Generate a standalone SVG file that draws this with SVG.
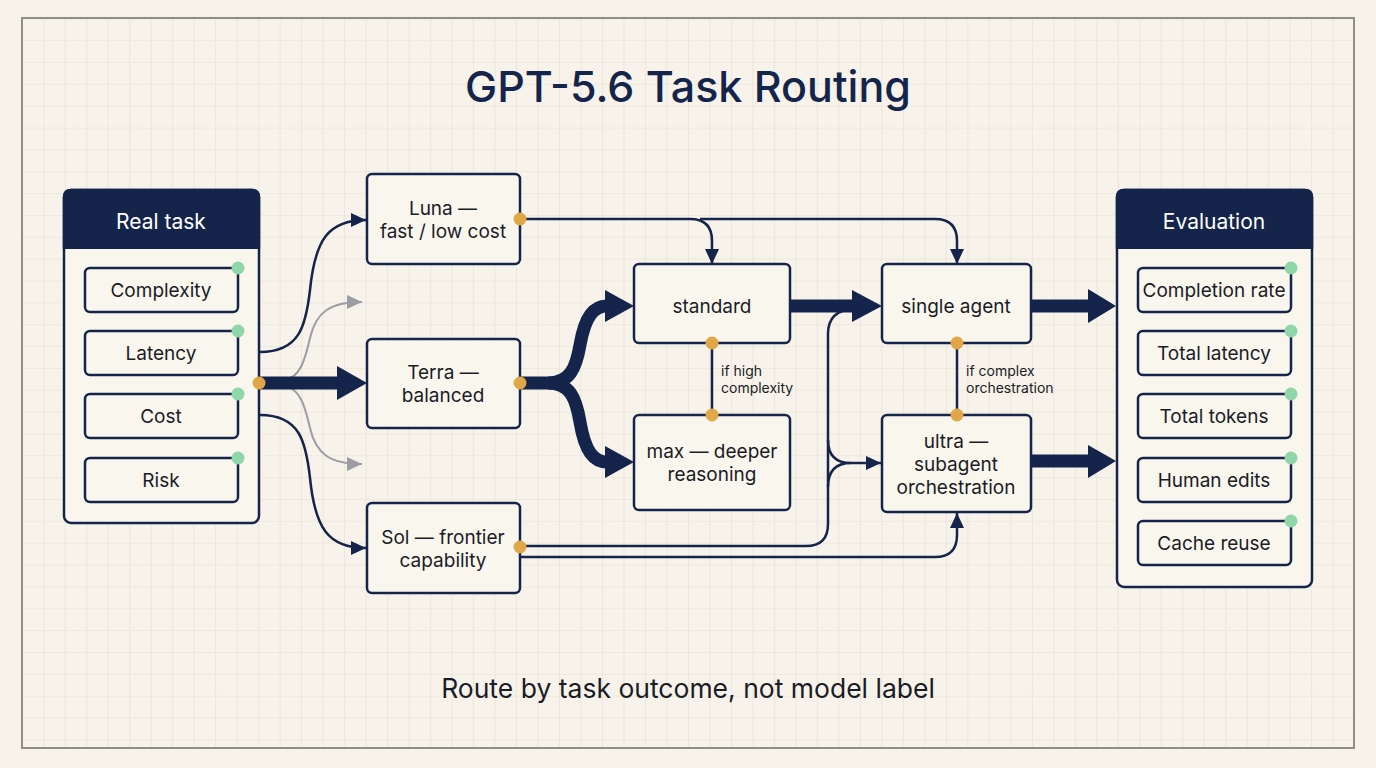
<svg xmlns="http://www.w3.org/2000/svg" width="1376" height="768" viewBox="0 0 1376 768">
  <defs>
    <pattern id="grid" patternUnits="userSpaceOnUse" x="0.3" y="18.3" width="21.49" height="21.85">
      <path d="M0,0 V21.85 M0,0 H21.49" fill="none" stroke="#e4dfd3" stroke-width="1.2"/>
    </pattern>
    <marker id="ah" markerUnits="userSpaceOnUse" markerWidth="16" markerHeight="16" viewBox="0 0 16 16" refX="15" refY="8" orient="auto">
      <path d="M0,1 L15,8 L0,15 z" fill="#14244a"/>
    </marker>
    <marker id="ahg" markerUnits="userSpaceOnUse" markerWidth="16" markerHeight="16" viewBox="0 0 16 16" refX="15" refY="8" orient="auto">
      <path d="M0,1 L15,8 L0,15 z" fill="#9c9ca4"/>
    </marker>
    <style>
      .box { fill: #f9f6ee; stroke: #14244a; stroke-width: 2.5; }
      .panel { fill: #f9f6ee; stroke: #14244a; stroke-width: 2.5; }
      .head { fill: #14244a; }
      .t { font-family: Inter, "Liberation Sans", sans-serif; fill: #1a1c26; text-anchor: middle; }
      .n { font-size: 19px; }
      .ht { font-size: 21px; fill: #ffffff; }
      .lbl { font-family: Inter, "Liberation Sans", sans-serif; font-size: 14px; fill: #1a1c26; }
      .ln { fill: none; stroke: #14244a; stroke-width: 2.5; }
      .gl { fill: none; stroke: #9c9ca4; stroke-width: 2; }
      .thick { fill: none; stroke: #14244a; stroke-width: 13; }
      .hd { fill: #14244a; }
      .od { fill: #e1a647; }
      .gd { fill: #8fd6a8; }
    </style>
  </defs>

  <rect x="0" y="0" width="1376" height="768" fill="#f7f3ea"/>
  <rect x="22" y="18" width="1332" height="730" fill="url(#grid)"/>
  <rect x="22" y="18" width="1332" height="730" fill="none" stroke="#8e8e86" stroke-width="2"/>

  <text class="t" x="688" y="102" font-size="43" font-weight="500" style="fill:#14244a">GPT-5.6 Task Routing</text>

  <g id="connectors">
    <!-- left fan-out -->
    <path class="ln" d="M260,352 C300,352 306,325 310,290 C315,240 328,220 366,220" marker-end="url(#ah)"/>
    <path class="gl" d="M284,380 C300,378 305,360 310,338 C316,312 330,302 362,302" marker-end="url(#ahg)"/>
    <path class="gl" d="M284,386 C300,388 305,406 310,428 C316,454 330,464 362,464" marker-end="url(#ahg)"/>
    <path class="ln" d="M260,415 C300,415 306,442 310,478 C315,528 328,548 366,548" marker-end="url(#ah)"/>
    <line class="thick" x1="259" y1="383" x2="339" y2="383"/>
    <polygon class="hd" points="337,366 367,383 337,400"/>

    <!-- Luna outputs -->
    <path class="ln" d="M520,219 H690 Q712,219 712,241 V264" marker-end="url(#ah)"/>
    <path class="ln" d="M700,219 H935 Q957,219 957,241 V264" marker-end="url(#ah)"/>

    <!-- Terra split -->
    <path class="thick" d="M520,383 H548 C570,383 576,368 580,345 C585,316 594,306 607,306"/>
    <polygon class="hd" points="605,290 634,306 605,322"/>
    <path class="thick" d="M548,383 C570,383 576,398 580,422 C585,452 594,462 607,462"/>
    <polygon class="hd" points="605,446 634,462 605,478"/>

    <!-- standard -> single agent -->
    <line class="thick" x1="790" y1="306" x2="854" y2="306"/>
    <polygon class="hd" points="852,290 882,306 852,322"/>

    <!-- Sol outputs -->
    <path class="ln" d="M520,546 H806 Q828,546 828,524 V334 Q828,310 854,309"/>
    <path class="ln" d="M828,440 Q828,463 851,463 H881" marker-end="url(#ah)"/>
    <path class="ln" d="M828,487 Q828,463 851,463"/>
    <path class="ln" d="M520,557 H935 Q957,557 957,535 V513" marker-end="url(#ah)"/>

    <!-- escalation links -->
    <line class="ln" x1="712" y1="343" x2="712" y2="415"/>
    <line class="ln" x1="957" y1="343" x2="957" y2="415"/>
    <text class="lbl" x="721" y="376">if high</text>
    <text class="lbl" x="721" y="393">complexity</text>
    <text class="lbl" x="966" y="376">if complex</text>
    <text class="lbl" x="966" y="393">orchestration</text>

    <!-- to evaluation -->
    <line class="thick" x1="1031" y1="306" x2="1090" y2="306"/>
    <polygon class="hd" points="1088,289 1116,306 1088,323"/>
    <line class="thick" x1="1031" y1="461" x2="1090" y2="461"/>
    <polygon class="hd" points="1088,445 1116,461 1088,478"/>
  </g>

  <g id="real-task">
    <rect class="panel" x="64" y="190" width="195" height="333" rx="7"/>
    <path class="head" d="M62.8,249 V197 Q62.8,188.8 71,188.8 H252 Q260.2,188.8 260.2,197 V249 Z"/>
    <text class="t ht" x="161" y="229">Real task</text>
    <g id="item-complexity">
      <rect class="box" x="85" y="268" width="153" height="44" rx="5"/>
      <text class="t n" x="161" y="297">Complexity</text>
      <circle class="gd" cx="238" cy="268" r="6.5"/>
    </g>
    <g id="item-latency">
      <rect class="box" x="85" y="331" width="153" height="44" rx="5"/>
      <text class="t n" x="161" y="360">Latency</text>
      <circle class="gd" cx="238" cy="331" r="6.5"/>
    </g>
    <g id="item-cost">
      <rect class="box" x="85" y="394" width="153" height="44" rx="5"/>
      <text class="t n" x="161" y="423">Cost</text>
      <circle class="gd" cx="238" cy="394" r="6.5"/>
    </g>
    <g id="item-risk">
      <rect class="box" x="85" y="458" width="153" height="44" rx="5"/>
      <text class="t n" x="161" y="487">Risk</text>
      <circle class="gd" cx="238" cy="458" r="6.5"/>
    </g>
    <circle class="od" cx="259" cy="383" r="6.5"/>
  </g>

  <g id="luna">
    <rect class="box" x="367" y="174" width="153" height="90" rx="5"/>
    <text class="t n" x="443" y="215">Luna —</text>
    <text class="t n" x="443" y="238">fast / low cost</text>
    <circle class="od" cx="520" cy="219" r="6.5"/>
  </g>

  <g id="terra">
    <rect class="box" x="367" y="339" width="153" height="89" rx="5"/>
    <text class="t n" x="443" y="379">Terra —</text>
    <text class="t n" x="443" y="402">balanced</text>
    <circle class="od" cx="520" cy="383" r="6.5"/>
  </g>

  <g id="sol">
    <rect class="box" x="367" y="503" width="153" height="90" rx="5"/>
    <text class="t n" x="443" y="544">Sol — frontier</text>
    <text class="t n" x="443" y="567">capability</text>
    <circle class="od" cx="520" cy="547" r="6.5"/>
  </g>

  <g id="standard">
    <rect class="box" x="634" y="264" width="156" height="79" rx="5"/>
    <text class="t n" x="712" y="313">standard</text>
    <circle class="od" cx="712" cy="343" r="6.5"/>
  </g>

  <g id="max">
    <rect class="box" x="634" y="415" width="156" height="95" rx="5"/>
    <text class="t n" x="712" y="458">max — deeper</text>
    <text class="t n" x="712" y="481">reasoning</text>
    <circle class="od" cx="712" cy="415" r="6.5"/>
  </g>

  <g id="single-agent">
    <rect class="box" x="882" y="264" width="149" height="79" rx="5"/>
    <text class="t n" x="956" y="313">single agent</text>
    <circle class="od" cx="957" cy="343" r="6.5"/>
  </g>

  <g id="ultra">
    <rect class="box" x="882" y="415" width="149" height="97" rx="5"/>
    <text class="t n" x="956" y="448">ultra —</text>
    <text class="t n" x="956" y="471">subagent</text>
    <text class="t n" x="956" y="494">orchestration</text>
    <circle class="od" cx="957" cy="415" r="6.5"/>
  </g>

  <g id="evaluation">
    <rect class="panel" x="1117" y="190" width="195" height="397" rx="7"/>
    <path class="head" d="M1115.8,249 V197 Q1115.8,188.8 1124,188.8 H1305 Q1313.2,188.8 1313.2,197 V249 Z"/>
    <text class="t ht" x="1214" y="229">Evaluation</text>
    <g id="item-completion">
      <rect class="box" x="1138" y="268" width="153" height="44" rx="5"/>
      <text class="t n" x="1214" y="297">Completion rate</text>
      <circle class="gd" cx="1291" cy="268" r="6.5"/>
    </g>
    <g id="item-total-latency">
      <rect class="box" x="1138" y="331" width="153" height="44" rx="5"/>
      <text class="t n" x="1214" y="360">Total latency</text>
      <circle class="gd" cx="1291" cy="331" r="6.5"/>
    </g>
    <g id="item-total-tokens">
      <rect class="box" x="1138" y="394" width="153" height="44" rx="5"/>
      <text class="t n" x="1214" y="423">Total tokens</text>
      <circle class="gd" cx="1291" cy="394" r="6.5"/>
    </g>
    <g id="item-human-edits">
      <rect class="box" x="1138" y="458" width="153" height="44" rx="5"/>
      <text class="t n" x="1214" y="487">Human edits</text>
      <circle class="gd" cx="1291" cy="458" r="6.5"/>
    </g>
    <g id="item-cache-reuse">
      <rect class="box" x="1138" y="521" width="153" height="44" rx="5"/>
      <text class="t n" x="1214" y="550">Cache reuse</text>
      <circle class="gd" cx="1291" cy="521" r="6.5"/>
    </g>
  </g>

  <text class="t" x="688" y="698" font-size="26.5">Route by task outcome, not model label</text>
</svg>
